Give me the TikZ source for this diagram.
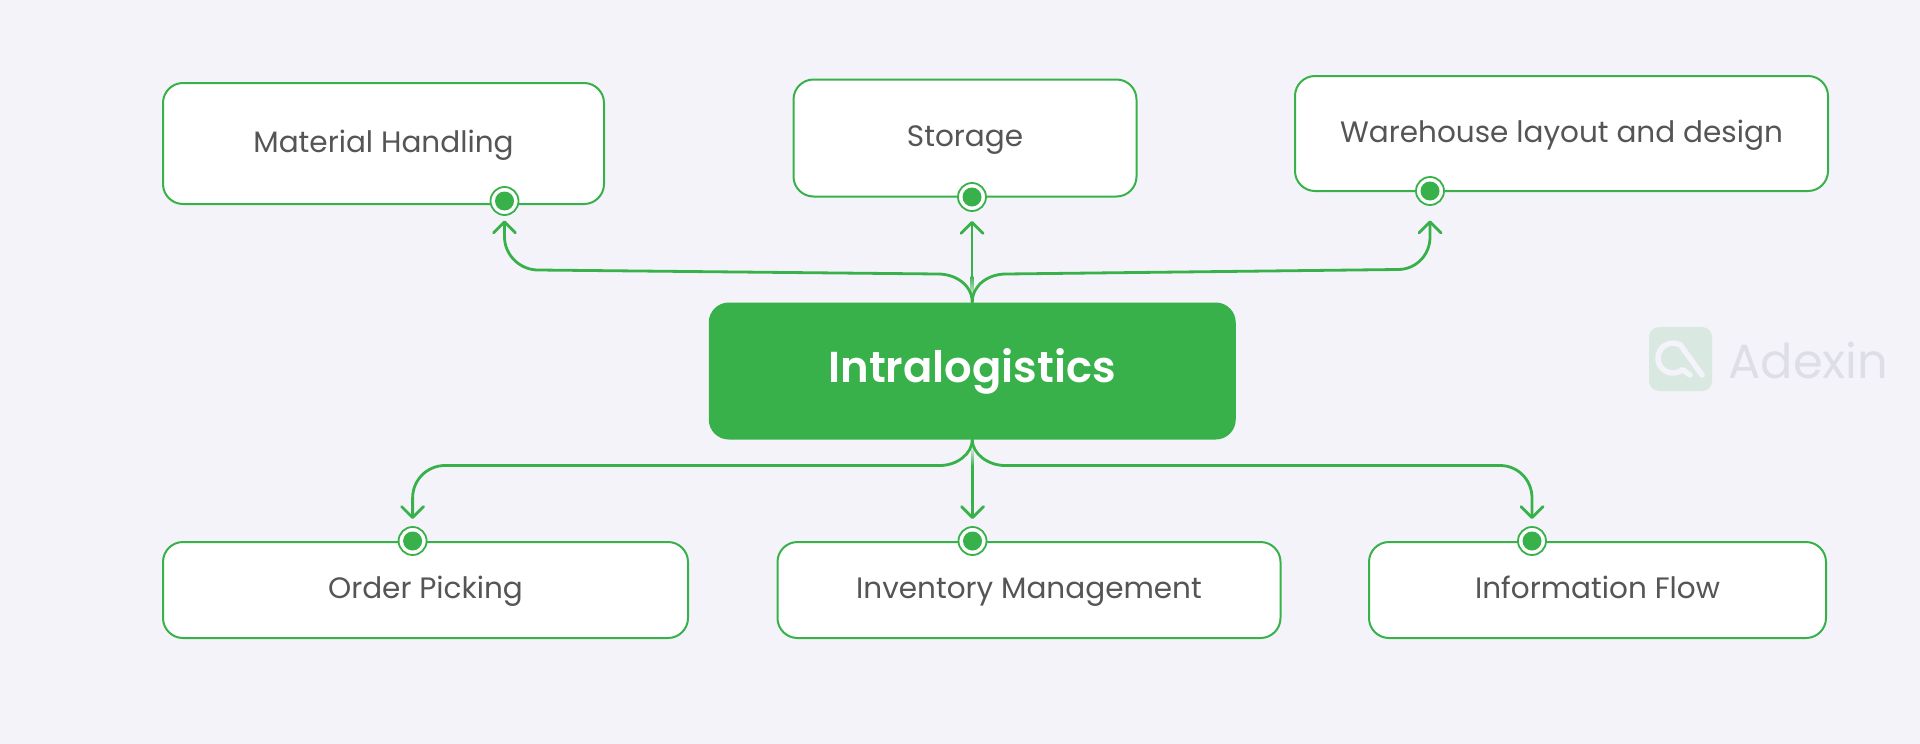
\documentclass[tikz,border=0pt]{standalone}
\usepackage{fontspec}
\setmainfont[BoldFont={Poppins SemiBold}]{Poppins}
\usetikzlibrary{arrows.meta}
\definecolor{bgc}{HTML}{F3F3F9}
\definecolor{grn}{HTML}{38B14A}
\definecolor{txt}{HTML}{555555}
\definecolor{logobg}{HTML}{D9E9E1}
\definecolor{logotx}{HTML}{DEDEE6}
\tikzset{
  x=1pt,y=-1pt,
  box/.style={draw=grn,line width=2pt,fill=white,rounded corners=20pt,inner sep=0pt,text=txt,
    text height=19.6pt,text depth=2pt,font=\fontsize{29.5}{32}\selectfont},
  hubbox/.style={fill=grn,rounded corners=20pt,inner sep=0pt,text=white,
    text height=24pt,text depth=2pt,font=\fontsize{43.3}{48}\selectfont\bfseries},
  ring/.style={circle,draw=grn,line width=1.8pt,fill=white,minimum size=28pt,inner sep=0pt},
  core/.style={circle,fill=grn,minimum size=19pt,inner sep=0pt},
  conn/.style={draw=grn,line width=2.8pt,line cap=round,line join=round},
  tipped/.style={conn,-{Straight Barb[length=11pt,width=22pt,round]}},
  fadeup/.style={top color=grn,bottom color=bgc,draw=none},
  fadedn/.style={top color=bgc,bottom color=grn,draw=none},
}
\begin{document}
\begin{tikzpicture}
\useasboundingbox (0,0) rectangle (1920,744);
\fill[bgc] (0,0) rectangle (1920,744);
% watermark
\fill[logobg,rounded corners=10pt] (1649,327) rectangle (1712,391);
\draw[bgc,line width=5.5pt,line cap=round,line join=round]
  (1690,375) -- (1682.6,369.5) arc[start angle=-50,end angle=-300,radius=15pt] -- (1702,375);
\node[text=logotx,font=\fontsize{48}{52}\selectfont,inner sep=0pt,anchor=west] (wm) at (1728,360) {Adexin};
% boxes
\node[box,minimum width=441pt,minimum height=121pt] (mh) at (383.5,143.5) {Material Handling};
\node[box,minimum width=343pt,minimum height=117pt] (st) at (965,138) {Storage};
\node[box,minimum width=533pt,minimum height=115pt] (wh) at (1561.5,133.5) {Warehouse layout and design};
\node[box,minimum width=525pt,minimum height=96pt] (op) at (425.5,590) {Order Picking};
\node[box,minimum width=503pt,minimum height=96pt] (im) at (1029,590) {Inventory Management};
\node[box,minimum width=457pt,minimum height=96pt] (fl) at (1597.5,590) {Information Flow};
\node[hubbox,minimum width=527pt,minimum height=137pt] (hub) at (972.25,371) {Intralogistics};
% ports
\node[ring] (pmh) at (504.5,201) {}; \node[core] at (pmh) {};
\node[ring] (pst) at (972,197) {}; \node[core] at (pst) {};
\node[ring] (pwh) at (1430,191) {}; \node[core] at (pwh) {};
\node[ring] (pop) at (412.6,541) {}; \node[core] at (pop) {};
\node[ring] (pim) at (972.5,541) {}; \node[core] at (pim) {};
\node[ring] (pfl) at (1532,541) {}; \node[core] at (pfl) {};
% way points
\coordinate (a1) at (938,274); \coordinate (a2) at (538,270); \coordinate (a3) at (504.5,237); \coordinate (a4) at (504.5,220.5);
\coordinate (b1) at (1006,274); \coordinate (b2) at (1398,269.5); \coordinate (b3) at (1430,237); \coordinate (b4) at (1430,220.5);
\coordinate (c1) at (972,276); \coordinate (c2) at (972,221);
\coordinate (d1) at (940,465.5); \coordinate (d2) at (445,465.5); \coordinate (d3) at (412.6,498); \coordinate (d4) at (412.6,519);
\coordinate (e1) at (1005,465.5); \coordinate (e2) at (1500,465.5); \coordinate (e3) at (1532,498); \coordinate (e4) at (1532,519);
\coordinate (f1) at (972.5,466); \coordinate (f2) at (972.5,519);
% connectors
\draw[tipped] (c1) -- (c2);
\shade[fadeup] (970.6,276) rectangle (973.4,298);
\draw[tipped] (f1) -- (f2);
\shade[fadedn] (971.1,445) rectangle (973.9,466);
\draw[tipped] (hub.north) .. controls +(0,-17) and +(18,0) .. (a1) -- (a2) .. controls +(-18,0) and +(0,18) .. (a3) -- (a4);
\draw[tipped] (hub.north) .. controls +(0,-17) and +(-18,0) .. (b1) -- (b2) .. controls +(18,0) and +(0,18) .. (b3) -- (b4);
\draw[tipped] (hub.south) .. controls +(0,14) and +(17,0) .. (d1) -- (d2) .. controls +(-18,0) and +(0,-18) .. (d3) -- (d4);
\draw[tipped] (hub.south) .. controls +(0,14) and +(-17,0) .. (e1) -- (e2) .. controls +(18,0) and +(0,-18) .. (e3) -- (e4);
\end{tikzpicture}
\end{document}
